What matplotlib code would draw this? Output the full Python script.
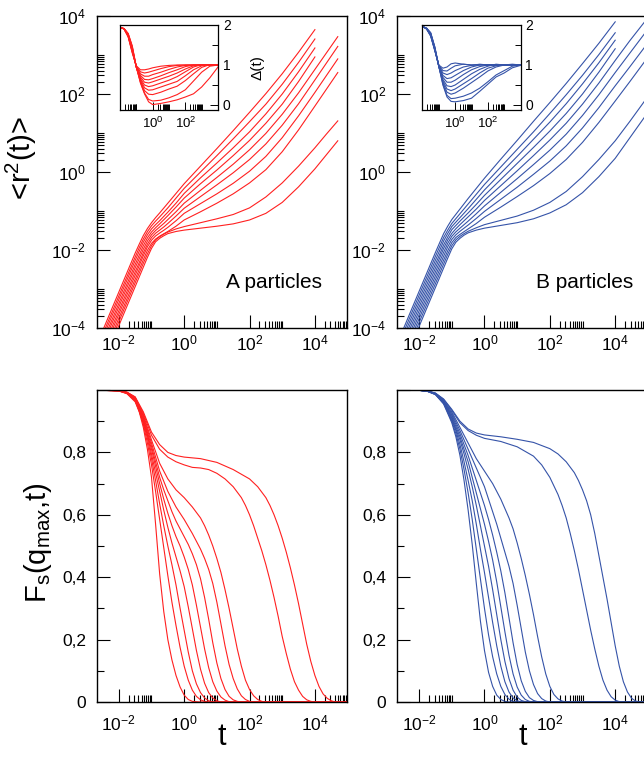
import numpy as np
import matplotlib
matplotlib.use("Agg")
import matplotlib.pyplot as plt
from matplotlib.ticker import FixedLocator, FixedFormatter, NullFormatter

plt.rcParams['font.family'] = 'Liberation Sans'
plt.rcParams['mathtext.fontset'] = 'custom'
plt.rcParams['mathtext.rm'] = 'Liberation Sans'
plt.rcParams['mathtext.it'] = 'Liberation Sans:italic'
plt.rcParams['mathtext.default'] = 'regular'

nan = np.nan

# ---- MSD, log10 values (10 state points, fast -> slow)
log_t_msd_a = [-2.7, -2.25, -1.75, -1.5, -1.375, -1.25, -1.125, -1.0, -0.875, -0.75, -0.625, -0.5,
               -0.25, 0.0, 0.5, 1.0, 1.5, 2.0, 2.5, 3.0, 3.5, 4.0, 4.35, 4.7]
log_msd_a = [
    [-4.48, -3.58, -2.58, -2.08, -1.85, -1.63, -1.45, -1.30, -1.17, -1.05, -0.925, -0.80, -0.55, -0.30, 0.15, 0.60, 1.06, 1.53, 2.01, 2.52, 3.07, 3.65, nan, nan],
    [-4.58, -3.68, -2.68, -2.18, -1.94, -1.72, -1.53, -1.38, -1.26, -1.15, -1.035, -0.92, -0.67, -0.42, 0.00, 0.42, 0.85, 1.29, 1.74, 2.25, 2.81, 3.41, nan, nan],
    [-4.67, -3.77, -2.77, -2.27, -2.03, -1.80, -1.61, -1.46, -1.35, -1.25, -1.14, -1.03, -0.80, -0.55, -0.15, 0.23, 0.62, 1.03, 1.49, 2.00, 2.57, 3.18, nan, nan],
    [-4.77, -3.87, -2.87, -2.37, -2.13, -1.89, -1.69, -1.54, -1.43, -1.33, -1.225, -1.12, -0.90, -0.67, -0.30, 0.05, 0.42, 0.81, 1.25, 1.74, 2.32, 2.95, nan, nan],
    [-4.86, -3.96, -2.96, -2.46, -2.22, -1.98, -1.77, -1.61, -1.50, -1.41, -1.32, -1.22, -1.02, -0.80, -0.47, -0.14, 0.20, 0.57, 0.99, 1.48, 2.03, 2.63, 3.05, 3.47],
    [-4.96, -4.06, -3.06, -2.56, -2.32, -2.07, -1.85, -1.68, -1.57, -1.49, -1.41, -1.32, -1.13, -0.93, -0.63, -0.33, -0.02, 0.32, 0.72, 1.20, 1.75, 2.36, 2.79, 3.22],
    [-5.05, -4.15, -3.15, -2.65, -2.40, -2.15, -1.92, -1.75, -1.64, -1.565, -1.495, -1.42, -1.25, -1.06, -0.81, -0.56, -0.29, 0.02, 0.40, 0.88, 1.44, 2.04, 2.47, 2.90],
    [-5.15, -4.25, -3.25, -2.75, -2.50, -2.25, -2.01, -1.83, -1.72, -1.645, -1.585, -1.525, -1.39, -1.23, -1.02, -0.80, -0.56, -0.28, 0.06, 0.52, 1.08, 1.69, 2.12, 2.55],
    [-5.24, -4.34, -3.34, -2.84, -2.59, -2.34, -2.10, -1.89, -1.74, -1.66, -1.595, -1.54, -1.46, -1.40, -1.30, -1.20, -1.09, -0.92, -0.64, -0.28, 0.15, 0.62, 0.97, 1.31],
    [-5.34, -4.44, -3.44, -2.94, -2.69, -2.44, -2.19, -1.96, -1.79, -1.70, -1.635, -1.58, -1.525, -1.49, -1.44, -1.39, -1.33, -1.23, -1.06, -0.78, -0.38, 0.08, 0.44, 0.80],
]

log_t_msd_b = [-2.7, -2.25, -1.75, -1.5, -1.375, -1.25, -1.125, -1.0, -0.875, -0.75, -0.625, -0.5,
               -0.25, 0.0, 0.5, 1.0, 1.5, 2.0, 2.5, 3.0, 3.5, 4.0, 4.45, 4.9]
log_msd_b = [
    [-4.46, -3.56, -2.56, -2.06, -1.82, -1.58, -1.39, -1.22, -1.085, -0.95, -0.815, -0.68, -0.42, -0.16, 0.33, 0.81, 1.30, 1.78, 2.27, 2.78, 3.30, 3.85, nan, nan],
    [-4.56, -3.66, -2.66, -2.16, -1.92, -1.68, -1.49, -1.32, -1.195, -1.07, -0.945, -0.82, -0.57, -0.32, 0.13, 0.58, 1.03, 1.50, 1.98, 2.48, 3.01, 3.57, nan, nan],
    [-4.66, -3.76, -2.76, -2.26, -2.02, -1.77, -1.575, -1.40, -1.285, -1.17, -1.055, -0.94, -0.70, -0.46, -0.03, 0.40, 0.84, 1.28, 1.75, 2.26, 2.80, 3.38, nan, nan],
    [-4.76, -3.86, -2.86, -2.36, -2.12, -1.87, -1.665, -1.48, -1.37, -1.26, -1.155, -1.05, -0.83, -0.60, -0.19, 0.22, 0.63, 1.05, 1.50, 2.00, 2.56, 3.16, nan, nan],
    [-4.86, -3.96, -2.96, -2.46, -2.21, -1.96, -1.745, -1.575, -1.455, -1.35, -1.25, -1.15, -0.95, -0.73, -0.35, 0.03, 0.42, 0.82, 1.25, 1.74, 2.28, 2.86, 3.37, 3.85],
    [-4.96, -4.06, -3.06, -2.56, -2.31, -2.06, -1.83, -1.65, -1.535, -1.44, -1.35, -1.26, -1.07, -0.87, -0.52, -0.17, 0.19, 0.56, 0.97, 1.45, 1.98, 2.55, 3.05, 3.55],
    [-5.06, -4.16, -3.16, -2.66, -2.41, -2.16, -1.92, -1.73, -1.61, -1.52, -1.44, -1.36, -1.19, -1.01, -0.70, -0.39, -0.06, 0.28, 0.67, 1.13, 1.65, 2.21, 2.70, 3.20],
    [-5.16, -4.26, -3.26, -2.76, -2.51, -2.26, -2.02, -1.81, -1.68, -1.60, -1.53, -1.46, -1.32, -1.16, -0.90, -0.63, -0.35, -0.04, 0.32, 0.76, 1.27, 1.82, 2.32, 2.83],
    [-5.26, -4.36, -3.36, -2.86, -2.61, -2.36, -2.11, -1.89, -1.74, -1.65, -1.58, -1.52, -1.43, -1.35, -1.24, -1.13, -0.98, -0.78, -0.50, -0.12, 0.32, 0.80, 1.30, 1.82],
    [-5.36, -4.46, -3.46, -2.96, -2.71, -2.46, -2.21, -1.97, -1.80, -1.70, -1.62, -1.56, -1.49, -1.44, -1.37, -1.30, -1.20, -1.05, -0.84, -0.53, -0.12, 0.35, 0.88, 1.41],
]

# ---- inset: Delta(t) = dlog<r^2>/dlog t
log_t_delta = [-2.0, -1.75, -1.5, -1.25, -1.0, -0.75, -0.5, -0.25, 0.0,
               0.5, 1.0, 1.5, 2.0, 2.5, 3.0, 3.5, 4.0]
delta_a = [
    [1.95, 1.90, 1.70, 1.30, 0.98, 0.88, 0.88, 0.90, 0.93, 0.97, 0.99, 1.00, 1.00, 1.00, 1.00, 1.00, 1.00],
    [1.95, 1.90, 1.71, 1.32, 0.97, 0.83, 0.80, 0.82, 0.85, 0.91, 0.96, 0.99, 1.00, 1.00, 1.00, 1.00, 1.00],
    [1.95, 1.90, 1.72, 1.34, 0.96, 0.78, 0.72, 0.72, 0.76, 0.82, 0.89, 0.95, 0.99, 1.00, 1.00, 1.00, 1.00],
    [1.94, 1.90, 1.73, 1.36, 0.95, 0.74, 0.64, 0.63, 0.66, 0.73, 0.81, 0.88, 0.96, 1.00, 1.00, 1.00, 1.00],
    [1.94, 1.90, 1.74, 1.38, 0.95, 0.70, 0.57, 0.55, 0.58, 0.65, 0.72, 0.80, 0.90, 0.98, 1.00, 1.00, 1.00],
    [1.94, 1.91, 1.75, 1.40, 0.94, 0.66, 0.50, 0.46, 0.48, 0.55, 0.62, 0.71, 0.83, 0.95, 1.01, 1.00, 1.00],
    [1.94, 1.91, 1.76, 1.42, 0.94, 0.63, 0.43, 0.37, 0.38, 0.45, 0.52, 0.59, 0.73, 0.88, 0.98, 1.00, 1.00],
    [1.93, 1.91, 1.77, 1.44, 0.94, 0.60, 0.36, 0.27, 0.26, 0.32, 0.40, 0.47, 0.61, 0.78, 0.94, 1.01, 1.00],
    [1.93, 1.91, 1.78, 1.46, 0.95, 0.57, 0.30, 0.14, 0.10, 0.12, 0.18, 0.26, 0.38, 0.60, 0.82, 0.97, 1.00],
    [1.93, 1.91, 1.79, 1.48, 0.95, 0.55, 0.28, 0.08, 0.01, 0.04, 0.08, 0.13, 0.20, 0.28, 0.45, 0.68, 0.95],
]
delta_b = [
    [1.97, 1.90, 1.72, 1.36, 1.00, 0.92, 0.95, 1.03, 1.05, 1.02, 1.00, 1.00, 1.00, 1.00, 1.00, 1.00, 1.00],
    [1.97, 1.90, 1.73, 1.37, 0.99, 0.86, 0.85, 0.92, 0.98, 1.02, 1.00, 1.01, 1.00, 1.00, 1.00, 1.00, 1.00],
    [1.97, 1.90, 1.74, 1.38, 0.98, 0.80, 0.76, 0.80, 0.86, 0.95, 0.99, 1.02, 1.00, 1.00, 1.00, 1.00, 1.00],
    [1.97, 1.91, 1.75, 1.39, 0.97, 0.74, 0.66, 0.68, 0.74, 0.86, 0.95, 1.00, 1.01, 1.00, 1.00, 1.00, 1.00],
    [1.96, 1.91, 1.76, 1.40, 0.97, 0.69, 0.57, 0.57, 0.62, 0.76, 0.88, 0.96, 1.00, 1.00, 1.00, 1.00, 1.00],
    [1.96, 1.91, 1.77, 1.41, 0.96, 0.64, 0.48, 0.46, 0.50, 0.64, 0.78, 0.89, 0.97, 1.02, 1.00, 1.00, 1.00],
    [1.96, 1.91, 1.78, 1.42, 0.96, 0.60, 0.40, 0.36, 0.40, 0.53, 0.66, 0.80, 0.92, 0.98, 1.00, 1.01, 1.00],
    [1.96, 1.92, 1.79, 1.44, 0.96, 0.56, 0.32, 0.27, 0.30, 0.42, 0.56, 0.70, 0.85, 0.95, 1.00, 1.02, 1.00],
    [1.96, 1.92, 1.80, 1.45, 0.97, 0.52, 0.24, 0.16, 0.17, 0.22, 0.30, 0.42, 0.58, 0.75, 0.86, 0.97, 1.00],
    [1.96, 1.92, 1.81, 1.46, 0.97, 0.50, 0.20, 0.09, 0.08, 0.11, 0.17, 0.34, 0.52, 0.70, 0.80, 0.93, 0.99],
]

# ---- self intermediate scattering function at q_max, (log10 t, F_s) pairs per curve
fs_a = [
    [(-2.7, 1.0), (-2.0, 0.997), (-1.75, 0.988), (-1.5, 0.962), (-1.375, 0.93), (-1.25, 0.88), (-1.125, 0.81),
     (-1.0, 0.72), (-0.875, 0.57), (-0.75, 0.41), (-0.625, 0.29), (-0.5, 0.20), (-0.375, 0.135), (-0.25, 0.085),
     (-0.125, 0.048), (0.0, 0.022), (0.125, 0.008), (0.25, 0.002), (0.5, 0.0), (5.0, 0.0)],
    [(-2.7, 1.0), (-2.0, 0.997), (-1.75, 0.989), (-1.5, 0.965), (-1.375, 0.935), (-1.25, 0.89), (-1.125, 0.83),
     (-1.0, 0.76), (-0.875, 0.675), (-0.75, 0.585), (-0.625, 0.495), (-0.5, 0.405), (-0.375, 0.32), (-0.25, 0.245),
     (-0.125, 0.175), (0.0, 0.115), (0.125, 0.07), (0.25, 0.038), (0.375, 0.018), (0.5, 0.007), (0.625, 0.002),
     (0.75, 0.0), (5.0, 0.0)],
    [(-2.7, 1.0), (-2.0, 0.997), (-1.75, 0.99), (-1.5, 0.967), (-1.25, 0.895), (-1.125, 0.845), (-1.0, 0.78),
     (-0.875, 0.71), (-0.75, 0.635), (-0.625, 0.565), (-0.5, 0.50), (-0.375, 0.44), (-0.25, 0.375), (-0.125, 0.30),
     (0.0, 0.23), (0.125, 0.16), (0.25, 0.10), (0.375, 0.058), (0.5, 0.03), (0.625, 0.013), (0.75, 0.004),
     (0.875, 0.0), (5.0, 0.0)],
    [(-2.7, 1.0), (-2.0, 0.997), (-1.75, 0.99), (-1.5, 0.969), (-1.25, 0.90), (-1.125, 0.855), (-1.0, 0.795),
     (-0.875, 0.735), (-0.75, 0.675), (-0.625, 0.615), (-0.5, 0.56), (-0.375, 0.51), (-0.25, 0.465), (-0.125, 0.42),
     (0.0, 0.37), (0.125, 0.305), (0.25, 0.235), (0.375, 0.165), (0.5, 0.105), (0.625, 0.06), (0.75, 0.03),
     (0.875, 0.013), (1.0, 0.004), (1.125, 0.0), (5.0, 0.0)],
    [(-2.7, 1.0), (-2.0, 0.998), (-1.75, 0.991), (-1.5, 0.971), (-1.25, 0.905), (-1.0, 0.81), (-0.875, 0.755),
     (-0.75, 0.70), (-0.625, 0.65), (-0.5, 0.605), (-0.375, 0.565), (-0.25, 0.53), (-0.125, 0.50), (0.0, 0.465),
     (0.125, 0.425), (0.25, 0.375), (0.375, 0.31), (0.5, 0.24), (0.625, 0.17), (0.75, 0.11), (0.875, 0.065),
     (1.0, 0.035), (1.125, 0.016), (1.25, 0.006), (1.375, 0.001), (1.5, 0.0), (5.0, 0.0)],
    [(-2.7, 1.0), (-2.0, 0.998), (-1.75, 0.991), (-1.5, 0.972), (-1.25, 0.91), (-1.0, 0.82), (-0.75, 0.72),
     (-0.625, 0.68), (-0.5, 0.645), (-0.375, 0.61), (-0.25, 0.58), (-0.125, 0.555), (0.0, 0.53), (0.125, 0.505),
     (0.25, 0.475), (0.375, 0.44), (0.5, 0.395), (0.625, 0.335), (0.75, 0.265), (0.875, 0.19), (1.0, 0.125),
     (1.125, 0.075), (1.25, 0.04), (1.375, 0.018), (1.5, 0.007), (1.625, 0.002), (1.75, 0.0), (5.0, 0.0)],
    [(-2.7, 1.0), (-2.0, 0.998), (-1.75, 0.992), (-1.5, 0.974), (-1.25, 0.915), (-1.0, 0.83), (-0.75, 0.74),
     (-0.5, 0.675), (-0.25, 0.625), (0.0, 0.585), (0.25, 0.54), (0.375, 0.515), (0.5, 0.49), (0.625, 0.46),
     (0.75, 0.425), (0.875, 0.38), (1.0, 0.32), (1.125, 0.25), (1.25, 0.18), (1.375, 0.12), (1.5, 0.075),
     (1.625, 0.042), (1.75, 0.02), (1.875, 0.008), (2.0, 0.002), (2.125, 0.0), (5.0, 0.0)],
    [(-2.7, 1.0), (-2.0, 0.998), (-1.75, 0.992), (-1.5, 0.975), (-1.25, 0.92), (-1.0, 0.84), (-0.75, 0.765),
     (-0.5, 0.715), (-0.25, 0.68), (0.0, 0.655), (0.25, 0.625), (0.5, 0.59), (0.625, 0.565), (0.75, 0.535),
     (0.875, 0.50), (1.0, 0.46), (1.125, 0.415), (1.25, 0.36), (1.375, 0.30), (1.5, 0.235), (1.625, 0.17),
     (1.75, 0.115), (1.875, 0.07), (2.0, 0.04), (2.125, 0.02), (2.25, 0.008), (2.375, 0.002), (2.5, 0.0), (5.0, 0.0)],
    [(-2.7, 1.0), (-2.0, 0.998), (-1.75, 0.993), (-1.5, 0.977), (-1.25, 0.925), (-1.0, 0.855), (-0.75, 0.81),
     (-0.5, 0.785), (-0.25, 0.77), (0.0, 0.76), (0.25, 0.752), (0.5, 0.75), (0.75, 0.745), (1.0, 0.733),
     (1.25, 0.715), (1.5, 0.69), (1.75, 0.655), (1.875, 0.63), (2.0, 0.60), (2.125, 0.565), (2.25, 0.525),
     (2.375, 0.485), (2.5, 0.44), (2.625, 0.39), (2.75, 0.335), (2.875, 0.275), (3.0, 0.21), (3.125, 0.155),
     (3.25, 0.105), (3.375, 0.065), (3.5, 0.038), (3.625, 0.018), (3.75, 0.007), (3.875, 0.002), (4.0, 0.0),
     (5.0, 0.0)],
    [(-2.7, 1.0), (-2.0, 0.998), (-1.75, 0.993), (-1.5, 0.978), (-1.25, 0.93), (-1.0, 0.865), (-0.75, 0.825),
     (-0.5, 0.80), (-0.25, 0.79), (0.0, 0.785), (0.5, 0.78), (1.0, 0.768), (1.5, 0.745), (2.0, 0.715),
     (2.25, 0.69), (2.5, 0.655), (2.625, 0.63), (2.75, 0.60), (2.875, 0.565), (3.0, 0.525), (3.125, 0.48),
     (3.25, 0.43), (3.375, 0.375), (3.5, 0.315), (3.625, 0.25), (3.75, 0.185), (3.875, 0.13), (4.0, 0.085),
     (4.125, 0.05), (4.25, 0.026), (4.375, 0.012), (4.5, 0.004), (4.625, 0.0), (5.0, 0.0)],
]
fs_b = [
    [(-2.7, 1.0), (-2.0, 0.999), (-1.75, 0.996), (-1.5, 0.985), (-1.25, 0.955), (-1.0, 0.895), (-0.875, 0.85),
     (-0.75, 0.79), (-0.625, 0.71), (-0.5, 0.615), (-0.375, 0.505), (-0.25, 0.38), (-0.125, 0.26), (0.0, 0.165),
     (0.125, 0.095), (0.25, 0.05), (0.375, 0.022), (0.5, 0.008), (0.625, 0.002), (0.75, 0.0), (5.0, 0.0)],
    [(-2.7, 1.0), (-2.0, 0.999), (-1.75, 0.996), (-1.5, 0.986), (-1.25, 0.957), (-1.0, 0.90), (-0.875, 0.86),
     (-0.75, 0.81), (-0.625, 0.745), (-0.5, 0.67), (-0.375, 0.585), (-0.25, 0.49), (-0.125, 0.395), (0.0, 0.30),
     (0.125, 0.215), (0.25, 0.145), (0.375, 0.09), (0.5, 0.05), (0.625, 0.024), (0.75, 0.009), (0.875, 0.002),
     (1.0, 0.0), (5.0, 0.0)],
    [(-2.7, 1.0), (-2.0, 0.999), (-1.75, 0.996), (-1.5, 0.986), (-1.25, 0.958), (-1.0, 0.905), (-0.875, 0.87),
     (-0.75, 0.825), (-0.625, 0.77), (-0.5, 0.71), (-0.375, 0.645), (-0.25, 0.57), (-0.125, 0.49), (0.0, 0.415),
     (0.125, 0.335), (0.25, 0.255), (0.375, 0.18), (0.5, 0.115), (0.625, 0.065), (0.75, 0.032), (0.875, 0.013),
     (1.0, 0.004), (1.125, 0.0), (5.0, 0.0)],
    [(-2.7, 1.0), (-2.0, 0.999), (-1.75, 0.996), (-1.5, 0.987), (-1.25, 0.96), (-1.0, 0.91), (-0.75, 0.84),
     (-0.625, 0.795), (-0.5, 0.745), (-0.375, 0.69), (-0.25, 0.63), (-0.125, 0.565), (0.0, 0.50), (0.125, 0.435),
     (0.25, 0.36), (0.375, 0.28), (0.5, 0.20), (0.625, 0.13), (0.75, 0.075), (0.875, 0.038), (1.0, 0.016),
     (1.125, 0.005), (1.25, 0.001), (1.375, 0.0), (5.0, 0.0)],
    [(-2.7, 1.0), (-2.0, 0.999), (-1.75, 0.996), (-1.5, 0.987), (-1.25, 0.961), (-1.0, 0.915), (-0.75, 0.85),
     (-0.5, 0.77), (-0.375, 0.72), (-0.25, 0.67), (-0.125, 0.62), (0.0, 0.57), (0.125, 0.515), (0.25, 0.455),
     (0.375, 0.385), (0.5, 0.305), (0.625, 0.225), (0.75, 0.15), (0.875, 0.09), (1.0, 0.048), (1.125, 0.022),
     (1.25, 0.008), (1.375, 0.002), (1.5, 0.0), (5.0, 0.0)],
    [(-2.7, 1.0), (-2.0, 0.999), (-1.75, 0.997), (-1.5, 0.988), (-1.25, 0.963), (-1.0, 0.92), (-0.75, 0.86),
     (-0.5, 0.79), (-0.25, 0.71), (-0.125, 0.67), (0.0, 0.63), (0.125, 0.585), (0.25, 0.535), (0.375, 0.48),
     (0.5, 0.42), (0.625, 0.35), (0.75, 0.27), (0.875, 0.19), (1.0, 0.12), (1.125, 0.068), (1.25, 0.034),
     (1.375, 0.014), (1.5, 0.005), (1.625, 0.001), (1.75, 0.0), (5.0, 0.0)],
    [(-2.7, 1.0), (-2.0, 0.999), (-1.75, 0.997), (-1.5, 0.988), (-1.25, 0.964), (-1.0, 0.925), (-0.75, 0.87),
     (-0.5, 0.81), (-0.25, 0.75), (0.0, 0.69), (0.25, 0.61), (0.375, 0.57), (0.5, 0.525), (0.625, 0.48),
     (0.75, 0.435), (0.875, 0.38), (1.0, 0.31), (1.125, 0.235), (1.25, 0.16), (1.375, 0.10), (1.5, 0.056),
     (1.625, 0.027), (1.75, 0.011), (1.875, 0.003), (2.0, 0.0), (5.0, 0.0)],
    [(-2.7, 1.0), (-2.0, 0.999), (-1.75, 0.997), (-1.5, 0.989), (-1.25, 0.966), (-1.0, 0.93), (-0.75, 0.88),
     (-0.5, 0.83), (-0.25, 0.78), (0.0, 0.74), (0.25, 0.70), (0.5, 0.65), (0.75, 0.59), (0.875, 0.555),
     (1.0, 0.51), (1.125, 0.46), (1.25, 0.405), (1.375, 0.345), (1.5, 0.28), (1.625, 0.21), (1.75, 0.145),
     (1.875, 0.09), (2.0, 0.05), (2.125, 0.024), (2.25, 0.01), (2.375, 0.003), (2.5, 0.0), (5.0, 0.0)],
    [(-2.7, 1.0), (-2.0, 0.999), (-1.75, 0.997), (-1.5, 0.99), (-1.25, 0.97), (-1.0, 0.935), (-0.75, 0.895),
     (-0.5, 0.87), (-0.25, 0.855), (0.0, 0.845), (0.5, 0.835), (1.0, 0.818), (1.5, 0.788), (1.75, 0.76),
     (2.0, 0.72), (2.25, 0.665), (2.375, 0.63), (2.5, 0.59), (2.625, 0.54), (2.75, 0.485), (2.875, 0.425),
     (3.0, 0.36), (3.125, 0.295), (3.25, 0.23), (3.375, 0.17), (3.5, 0.115), (3.625, 0.07), (3.75, 0.038),
     (3.875, 0.017), (4.0, 0.006), (4.125, 0.001), (4.25, 0.0), (5.0, 0.0)],
    [(-2.7, 1.0), (-2.0, 0.999), (-1.75, 0.997), (-1.5, 0.99), (-1.25, 0.971), (-1.0, 0.938), (-0.75, 0.90),
     (-0.5, 0.875), (-0.25, 0.862), (0.0, 0.856), (0.5, 0.85), (1.0, 0.842), (1.5, 0.832), (2.0, 0.812),
     (2.25, 0.795), (2.5, 0.77), (2.75, 0.735), (2.875, 0.71), (3.0, 0.68), (3.125, 0.645), (3.25, 0.60),
     (3.375, 0.54), (3.5, 0.47), (3.625, 0.40), (3.75, 0.33), (3.875, 0.255), (4.0, 0.18), (4.125, 0.115),
     (4.25, 0.065), (4.375, 0.032), (4.5, 0.012), (4.625, 0.003), (4.75, 0.0), (5.0, 0.0)],
]

fs_ticks = [0.0, 0.2, 0.4, 0.6, 0.8, 1.0]
fs_tick_labels = ['0', '0,2', '0,4', '0,6', '0,8', '']
panel_text = ['A particles', 'B particles']
colors = ['#ff2020', '#3553a8']


def decade_minors(decades):
    # xmgrace style: 2..10 x 10^d, only after every labelled decade
    return [k * 10.0 ** d for d in decades for k in range(2, 11)]


def style_axis(ax, major_len=9.5, minor_len=5):
    ax.tick_params(which='both', direction='in', top=False, right=False, width=0.8)
    ax.tick_params(which='major', length=major_len)
    ax.tick_params(which='minor', length=minor_len)
    for s in ax.spines.values():
        s.set_linewidth(1.0)


def log_time_axis(ax, pad):
    ax.set_xscale('log')
    ax.set_xlim(2.15e-3, 9.6e4)
    ax.xaxis.set_major_locator(FixedLocator([1e-2, 1e0, 1e2, 1e4]))
    ax.xaxis.set_major_formatter(FixedFormatter(['$10^{-2}$', '$10^{0}$', '$10^{2}$', '$10^{4}$']))
    ax.xaxis.set_minor_locator(FixedLocator(decade_minors([-2, 0, 2, 4])))
    ax.xaxis.set_minor_formatter(NullFormatter())
    ax.tick_params(axis='x', which='major', labelsize=12.5, pad=pad)


fig = plt.figure(figsize=(6.44, 7.57), dpi=100)

lefts = [97 / 644, 397.3 / 644]
inset_lefts = [120 / 644, 422.5 / 644]
w, h = 250 / 644, 312 / 757

for col in range(2):
    color = colors[col]
    msd_t = log_t_msd_a if col == 0 else log_t_msd_b
    msd = log_msd_a if col == 0 else log_msd_b
    delta = delta_a if col == 0 else delta_b
    fs = fs_a if col == 0 else fs_b

    # top: mean square displacement
    ax = fig.add_axes([lefts[col], (757 - 328) / 757, w, h])
    t = 10.0 ** np.array(msd_t)
    for row in msd:
        ax.plot(t, 10.0 ** np.array(row), color=color, lw=0.8)
    log_time_axis(ax, pad=4)
    ax.set_yscale('log')
    ax.set_ylim(1e-4, 1e4)
    ax.yaxis.set_major_locator(FixedLocator([1e-4, 1e-2, 1e0, 1e2, 1e4]))
    ax.yaxis.set_major_formatter(FixedFormatter(['$10^{-4}$', '$10^{-2}$', '$10^{0}$', '$10^{2}$', '$10^{4}$']))
    ax.yaxis.set_minor_locator(FixedLocator(decade_minors([-4, -2, 0, 2])))
    ax.yaxis.set_minor_formatter(NullFormatter())
    ax.tick_params(axis='y', which='major', labelsize=12.5, pad=8)
    style_axis(ax)
    ax.text(0.516 if col == 0 else 0.555, 0.147, panel_text[col], transform=ax.transAxes,
            fontsize=15, ha='left', va='center')
    if col == 0:
        ax.set_ylabel('<r$^2$(t)>', fontsize=21)
        ax.yaxis.set_label_coords(-0.232, 0.545)

    # inset: local slope
    ins = fig.add_axes([inset_lefts[col], (757 - 110) / 757, 98 / 644, 85 / 757])
    tin = 10.0 ** np.array(log_t_delta)
    for row in delta:
        ins.plot(tin, row, color=color, lw=0.8)
    ins.set_xscale('log')
    ins.set_xlim(1e-2, 1e4)
    ins.set_ylim(-0.125, 2.0)
    ins.xaxis.set_major_locator(FixedLocator([1e-2, 1e0, 1e2, 1e4]))
    ins.xaxis.set_major_formatter(FixedFormatter(['', '$10^{0}$', '$10^{2}$', '']))
    ins.xaxis.set_minor_locator(FixedLocator(decade_minors([-2, 0, 2])))
    ins.xaxis.set_minor_formatter(NullFormatter())
    ins.yaxis.set_major_locator(FixedLocator([0, 1, 2]))
    ins.yaxis.set_minor_locator(FixedLocator([0.5, 1.5]))
    ins.yaxis.tick_right()
    ins.tick_params(which='both', direction='in', top=False, left=False, right=True,
                    labelright=True, labelleft=False, width=0.7, labelsize=10)
    ins.tick_params(which='major', length=6)
    ins.tick_params(which='minor', length=4)
    ins.tick_params(axis='x', labelsize=9.5, pad=4)
    for s in ins.spines.values():
        s.set_linewidth(0.9)
    if col == 0:
        ins.yaxis.set_label_position('right')
        ins.set_ylabel('Δ(t)', fontsize=11, rotation=90)
        ins.yaxis.set_label_coords(1.33, 0.5)

    # bottom: F_s(q_max, t)
    bx = fig.add_axes([lefts[col], (757 - 702) / 757, w, h])
    for curve in fs:
        lt, val = zip(*curve)
        bx.plot(10.0 ** np.array(lt), val, color=color, lw=0.8)
    log_time_axis(bx, pad=8)
    bx.set_ylim(0, 1.0)
    bx.yaxis.set_major_locator(FixedLocator(fs_ticks))
    bx.yaxis.set_major_formatter(FixedFormatter(fs_tick_labels))
    bx.yaxis.set_minor_locator(FixedLocator([0.1, 0.3, 0.5, 0.7, 0.9]))
    bx.tick_params(axis='y', which='major', labelsize=12.5, pad=8)
    style_axis(bx)
    bx.set_xlabel('t', fontsize=22)
    bx.xaxis.set_label_coords(0.5, -0.064)
    if col == 0:
        bx.set_ylabel('F$_\\mathrm{s}$(q$_\\mathrm{max}$,t)', fontsize=21)
        bx.yaxis.set_label_coords(-0.17, 0.51)

fig.savefig('out.png', dpi=100)
